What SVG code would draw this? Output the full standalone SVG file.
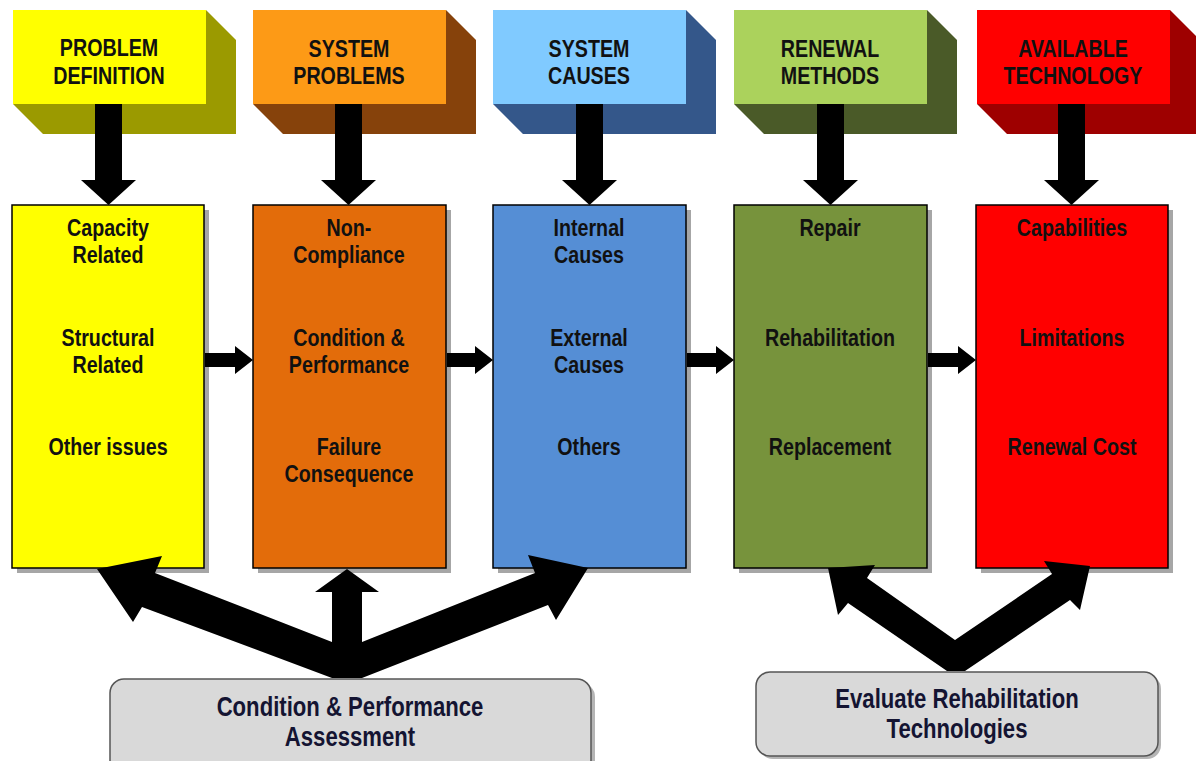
<svg xmlns="http://www.w3.org/2000/svg" width="1196" height="761" viewBox="0 0 1196 761">
  <style>
    .hdr { font-family: "Liberation Sans", Arial, sans-serif; font-size: 24px; font-weight: bold; fill: #111; text-anchor: middle; }
    .item { font-family: "Liberation Sans", Arial, sans-serif; font-size: 24px; font-weight: bold; fill: #111; text-anchor: middle; }
    .foot { font-family: "Liberation Sans", Arial, sans-serif; font-size: 27px; font-weight: bold; fill: #141432; text-anchor: middle; }
    .box { stroke: #000; stroke-width: 1.5; }
    .shadow { fill: #a6a6a6; }
    .pill { fill: #d9d9d9; stroke: #555; stroke-width: 1.5; }
    .arrow { fill: #000; }
  </style>

  <!-- Header blocks (3D); labels are set in a condensed face by scaling x -->
  <g id="hdr-problem-definition">
    <path d="M206,10 L236,40 L236,134 L43,134 L13,104 L206,104 Z" fill="#9b9a00"/>
    <rect x="13" y="10" width="193" height="94" fill="#ffff00"/>
    <g transform="translate(109 0) scale(0.82 1)">
      <text class="hdr" x="0" y="56">PROBLEM</text>
      <text class="hdr" x="0" y="84">DEFINITION</text>
    </g>
  </g>
  <g id="hdr-system-problems">
    <path d="M446,10 L476,40 L476,134 L283,134 L253,104 L446,104 Z" fill="#86420b"/>
    <rect x="253" y="10" width="193" height="94" fill="#fd9a16"/>
    <g transform="translate(349 0) scale(0.82 1)">
      <text class="hdr" x="0" y="57">SYSTEM</text>
      <text class="hdr" x="0" y="84">PROBLEMS</text>
    </g>
  </g>
  <g id="hdr-system-causes">
    <path d="M686,10 L716,40 L716,134 L523,134 L493,104 L686,104 Z" fill="#34578a"/>
    <rect x="493" y="10" width="193" height="94" fill="#80caff"/>
    <g transform="translate(589 0) scale(0.82 1)">
      <text class="hdr" x="0" y="57">SYSTEM</text>
      <text class="hdr" x="0" y="84">CAUSES</text>
    </g>
  </g>
  <g id="hdr-renewal-methods">
    <path d="M927,10 L957,40 L957,134 L764,134 L734,104 L927,104 Z" fill="#4a5a28"/>
    <rect x="734" y="10" width="193" height="94" fill="#abd25c"/>
    <g transform="translate(830 0) scale(0.82 1)">
      <text class="hdr" x="0" y="57">RENEWAL</text>
      <text class="hdr" x="0" y="84">METHODS</text>
    </g>
  </g>
  <g id="hdr-available-technology">
    <path d="M1170,10 L1200,40 L1200,134 L1007,134 L977,104 L1170,104 Z" fill="#9e0000"/>
    <rect x="977" y="10" width="193" height="94" fill="#ff0000"/>
    <g transform="translate(1073 0) scale(0.82 1)">
      <text class="hdr" x="0" y="57">AVAILABLE</text>
      <text class="hdr" x="0" y="84">TECHNOLOGY</text>
    </g>
  </g>

  <!-- Main column boxes -->
  <g id="box-problem-definition">
    <rect class="shadow" x="17" y="210" width="192" height="363"/>
    <rect class="box" x="12" y="205" width="192" height="363" fill="#ffff00"/>
    <g transform="translate(108 0) scale(0.82 1)">
      <text class="item" x="0" y="236">Capacity</text>
      <text class="item" x="0" y="263">Related</text>
      <text class="item" x="0" y="346">Structural</text>
      <text class="item" x="0" y="373">Related</text>
      <text class="item" x="0" y="455">Other issues</text>
    </g>
  </g>
  <g id="box-system-problems">
    <rect class="shadow" x="258" y="210" width="193" height="363"/>
    <rect class="box" x="253" y="205" width="193" height="363" fill="#e36c0a"/>
    <g transform="translate(349 0) scale(0.82 1)">
      <text class="item" x="0" y="236">Non-</text>
      <text class="item" x="0" y="263">Compliance</text>
      <text class="item" x="0" y="346">Condition &amp;</text>
      <text class="item" x="0" y="373">Performance</text>
      <text class="item" x="0" y="455">Failure</text>
      <text class="item" x="0" y="482">Consequence</text>
    </g>
  </g>
  <g id="box-system-causes">
    <rect class="shadow" x="498" y="210" width="193" height="363"/>
    <rect class="box" x="493" y="205" width="193" height="363" fill="#558ed5"/>
    <g transform="translate(589 0) scale(0.82 1)">
      <text class="item" x="0" y="236">Internal</text>
      <text class="item" x="0" y="263">Causes</text>
      <text class="item" x="0" y="346">External</text>
      <text class="item" x="0" y="373">Causes</text>
      <text class="item" x="0" y="455">Others</text>
    </g>
  </g>
  <g id="box-renewal-methods">
    <rect class="shadow" x="739" y="210" width="193" height="363"/>
    <rect class="box" x="734" y="205" width="193" height="363" fill="#77933c"/>
    <g transform="translate(830 0) scale(0.82 1)">
      <text class="item" x="0" y="236">Repair</text>
      <text class="item" x="0" y="346">Rehabilitation</text>
      <text class="item" x="0" y="455">Replacement</text>
    </g>
  </g>
  <g id="box-available-technology">
    <rect class="shadow" x="981" y="210" width="192" height="363"/>
    <rect class="box" x="976" y="205" width="192" height="363" fill="#ff0000"/>
    <g transform="translate(1072 0) scale(0.82 1)">
      <text class="item" x="0" y="236">Capabilities</text>
      <text class="item" x="0" y="346">Limitations</text>
      <text class="item" x="0" y="455">Renewal Cost</text>
    </g>
  </g>

  <!-- Bottom process boxes -->
  <g id="box-condition-assessment">
    <rect x="114" y="683" width="481" height="95" rx="14" fill="#b5b5b5"/>
    <rect class="pill" x="110" y="679" width="481" height="95" rx="14"/>
    <g transform="translate(350 0) scale(0.82 1)">
      <text class="foot" x="0" y="716">Condition &amp; Performance</text>
      <text class="foot" x="0" y="746">Assessment</text>
    </g>
  </g>
  <g id="box-evaluate-technologies">
    <rect x="759" y="675" width="402" height="84" rx="14" fill="#b5b5b5"/>
    <rect class="pill" x="756" y="672" width="402" height="84" rx="14"/>
    <g transform="translate(957 0) scale(0.82 1)">
      <text class="foot" x="0" y="708">Evaluate Rehabilitation</text>
      <text class="foot" x="0" y="738">Technologies</text>
    </g>
  </g>

  <!-- Connectors -->
  <g id="connectors" class="arrow">
    <!-- header to column -->
    <path d="M95,104 H122 V180 H136 L108.5,205 L81,180 H95 Z"/>
    <path d="M335,104 H362 V180 H376 L348.5,205 L321,180 H335 Z"/>
    <path d="M576,104 H603 V180 H617 L589.5,205 L562,180 H576 Z"/>
    <path d="M817,104 H844 V180 H858 L830.5,205 L803,180 H817 Z"/>
    <path d="M1058,104 H1085 V180 H1099 L1071.5,205 L1044,180 H1058 Z"/>
    <!-- column to column -->
    <path d="M205,353 H235 V346 L253,360 L235,374 V367 H205 Z"/>
    <path d="M447,353 H475 V346 L493,360 L475,374 V367 H447 Z"/>
    <path d="M687,353 H716 V346 L734,360 L716,374 V367 H687 Z"/>
    <path d="M928,353 H958 V346 L976,360 L958,374 V367 H928 Z"/>
    <!-- assessment fan -->
    <path d="M347,569 L379,592 L362,592 L362,642 L535,573 L528,555 L588,568 L556,620 L548,605 L362,678 L332,678 L142,607 L133,622 L97,569 L162,556 L155,573 L332,642 L332,592 L315,592 Z"/>
    <!-- technology evaluation fan -->
    <path d="M947,671 L965,671 L1070,600 L1080,610 L1090,566 L1044,561 L1052,574 L955,640 L867,578 L875,565 L828,568 L838,615 L848,603 Z"/>
  </g>
</svg>
